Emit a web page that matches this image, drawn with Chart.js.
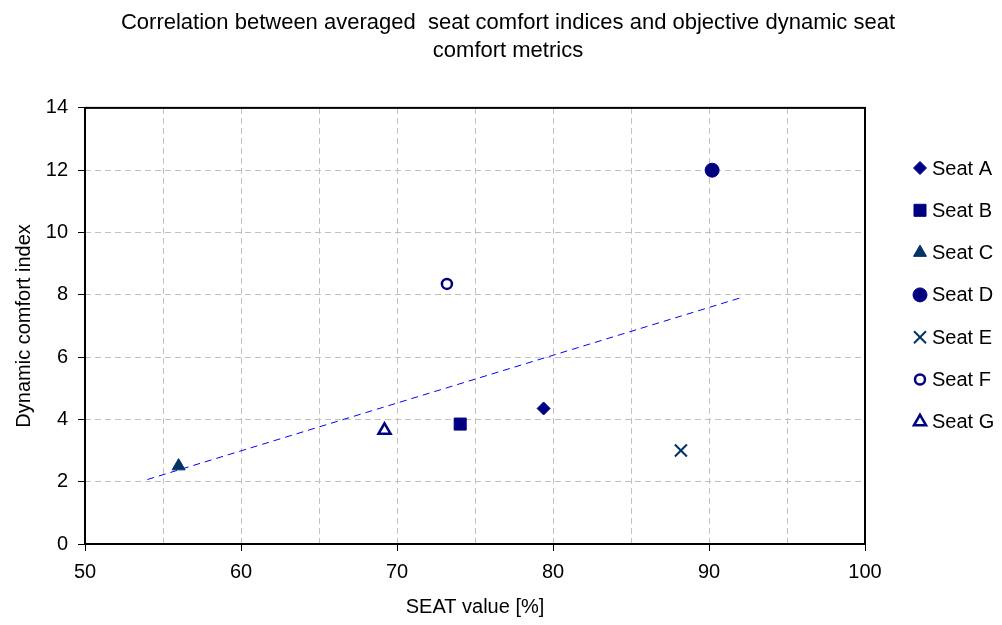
<!DOCTYPE html>
<html>
<head>
<meta charset="utf-8">
<script src="https://cdn.jsdelivr.net/npm/chart.js@4"></script>
<style>
  html, body { margin: 0; padding: 0; background: #fff; }
  #wrap { width: 1002px; height: 625px; }
</style>
</head>
<body>
<div id="wrap"><canvas id="seatChart" width="1002" height="625"></canvas></div>
<script>
// values
const seatLabels = ['Seat A', 'Seat B', 'Seat C', 'Seat D', 'Seat E', 'Seat F', 'Seat G'];
const seatX = [79.4, 74.05, 56.0, 90.2, 88.2, 73.2, 69.2];
const seatY = [4.35, 3.85, 2.5, 12.0, 3.0, 8.35, 3.65];
const trendX = [54.0, 92.2];
const trendY = [2.07, 7.93];
const xTicks = [50, 60, 70, 80, 90, 100];
const yTicks = [0, 2, 4, 6, 8, 10, 12, 14];

const fontFamily = "'Liberation Sans', Arial, sans-serif";
Chart.defaults.font.family = fontFamily;
Chart.defaults.color = '#000';

const navy = '#000080';
const darkBlue = '#003366';

const markerStyles = [
    { pointStyle: 'rectRot', radius: 6.5, fill: navy, border: navy, width: 1 },
    { pointStyle: 'rect', radius: 8.5, fill: navy, border: navy, width: 1 },
    { pointStyle: 'triangle', radius: 7.5, fill: darkBlue, border: darkBlue, width: 1 },
    { pointStyle: 'circle', radius: 7, fill: navy, border: navy, width: 1 },
    { pointStyle: 'crossRot', radius: 8.5, fill: darkBlue, border: darkBlue, width: 2 },
    { pointStyle: 'circle', radius: 5, fill: '#fff', border: navy, width: 2.5 },
    { pointStyle: 'triangle', radius: 7, fill: '#fff', border: navy, width: 2.5 }
];

const datasets = seatLabels.map(function(label, i) {
    const m = markerStyles[i];
    return {
        label: label,
        data: [{ x: seatX[i], y: seatY[i] }],
        pointStyle: m.pointStyle,
        pointRadius: m.radius,
        pointHoverRadius: m.radius,
        backgroundColor: m.fill,
        borderColor: m.border,
        borderWidth: m.width,
        order: 1
    };
});

datasets.push({
    label: 'Trend',
    data: trendX.map((x, i) => ({ x: x, y: trendY[i] })),
    showLine: true,
    borderColor: '#0000FF',
    borderWidth: 1,
    borderDash: [7, 5],
    pointRadius: 0,
    fill: false,
    order: 2
});

// black frame round the plot area
const frame = {
    id: 'frame',
    beforeDatasetsDraw(chart) {
        const a = chart.chartArea;
        const ctx = chart.ctx;
        ctx.save();
        ctx.strokeStyle = '#000';
        ctx.lineWidth = 2;
        ctx.strokeRect(a.left, a.top, a.right - a.left, a.bottom - a.top);
        ctx.restore();
    }
};

// legend on the right, like the original
const sideLegend = {
    id: 'sideLegend',
    afterDraw(chart) {
        const ctx = chart.ctx;
        const markX = chart.chartArea.right + 55;
        const textX = markX + 12;
        const top = 168;
        const step = 42.3;
        ctx.save();
        seatLabels.forEach(function(label, i) {
            const ds = chart.data.datasets[i];
            const y = top + i * step;
            ctx.fillStyle = ds.backgroundColor;
            ctx.strokeStyle = ds.borderColor;
            ctx.lineWidth = ds.borderWidth;
            Chart.helpers.drawPoint(ctx, {
                pointStyle: ds.pointStyle,
                radius: ds.pointRadius,
                rotation: 0,
                borderWidth: ds.borderWidth
            }, markX, y);
            ctx.fillStyle = '#000';
            ctx.font = '20px ' + fontFamily;
            ctx.textAlign = 'left';
            ctx.textBaseline = 'middle';
            ctx.fillText(label, textX, y + 1);
        });
        ctx.restore();
    }
};

const gridDash = [6, 4];

new Chart(document.getElementById('seatChart'), {
    type: 'scatter',
    data: { datasets: datasets },
    options: {
        responsive: false,
        animation: false,
        layout: { padding: { left: 14, right: 0, top: 0, bottom: 0 } },
        plugins: {
            legend: { display: false },
            tooltip: { enabled: false },
            title: {
                display: true,
                text: ['Correlation between averaged  seat comfort indices and objective dynamic seat', 'comfort metrics'],
                color: '#000',
                font: { size: 22, weight: 'normal', lineHeight: 1.27 },
                padding: { top: 9, bottom: 43 }
            }
        },
        scales: {
            x: {
                type: 'linear',
                min: 50,
                max: 100,
                afterFit: function(scale) { scale.height = 81; },
                afterBuildTicks: function(scale) {
                    const t = [];
                    for (let v = 50; v <= 100; v += 5) t.push({ value: v });
                    scale.ticks = t;
                },
                ticks: {
                    autoSkip: false,
                    maxRotation: 0,
                    padding: 9,
                    font: { size: 20 },
                    callback: v => xTicks.includes(v) ? String(v) : ''
                },
                grid: {
                    color: '#C0C0C0',
                    tickColor: ctx => (ctx.tick && xTicks.includes(ctx.tick.value)) ? '#000' : 'rgba(0,0,0,0)',
                    tickLength: 7,
                    lineWidth: 1
                },
                border: { display: false, dash: gridDash },
                title: {
                    display: true,
                    text: 'SEAT value [%]',
                    font: { size: 20, lineHeight: 1.2 },
                    padding: { top: 0, bottom: 6 }
                }
            },
            y: {
                type: 'linear',
                min: 0,
                max: 14,
                afterFit: function(scale) { scale.width = 71; },
                afterBuildTicks: function(scale) {
                    scale.ticks = yTicks.map(v => ({ value: v }));
                },
                ticks: {
                    padding: 10,
                    font: { size: 20 }
                },
                grid: {
                    color: '#C0C0C0',
                    tickColor: '#000',
                    tickLength: 7,
                    lineWidth: 1
                },
                border: { display: false, dash: gridDash },
                title: {
                    display: true,
                    text: 'Dynamic comfort index',
                    font: { size: 20, lineHeight: 1 },
                    padding: { top: 0, bottom: 0 }
                }
            },
            pad: {
                type: 'linear',
                position: 'right',
                display: true,
                afterFit: function(scale) { scale.width = 137; },
                grid: { display: false, drawTicks: false },
                border: { display: false },
                ticks: { display: false }
            }
        }
    },
    plugins: [frame, sideLegend]
});
</script>
</body>
</html>
